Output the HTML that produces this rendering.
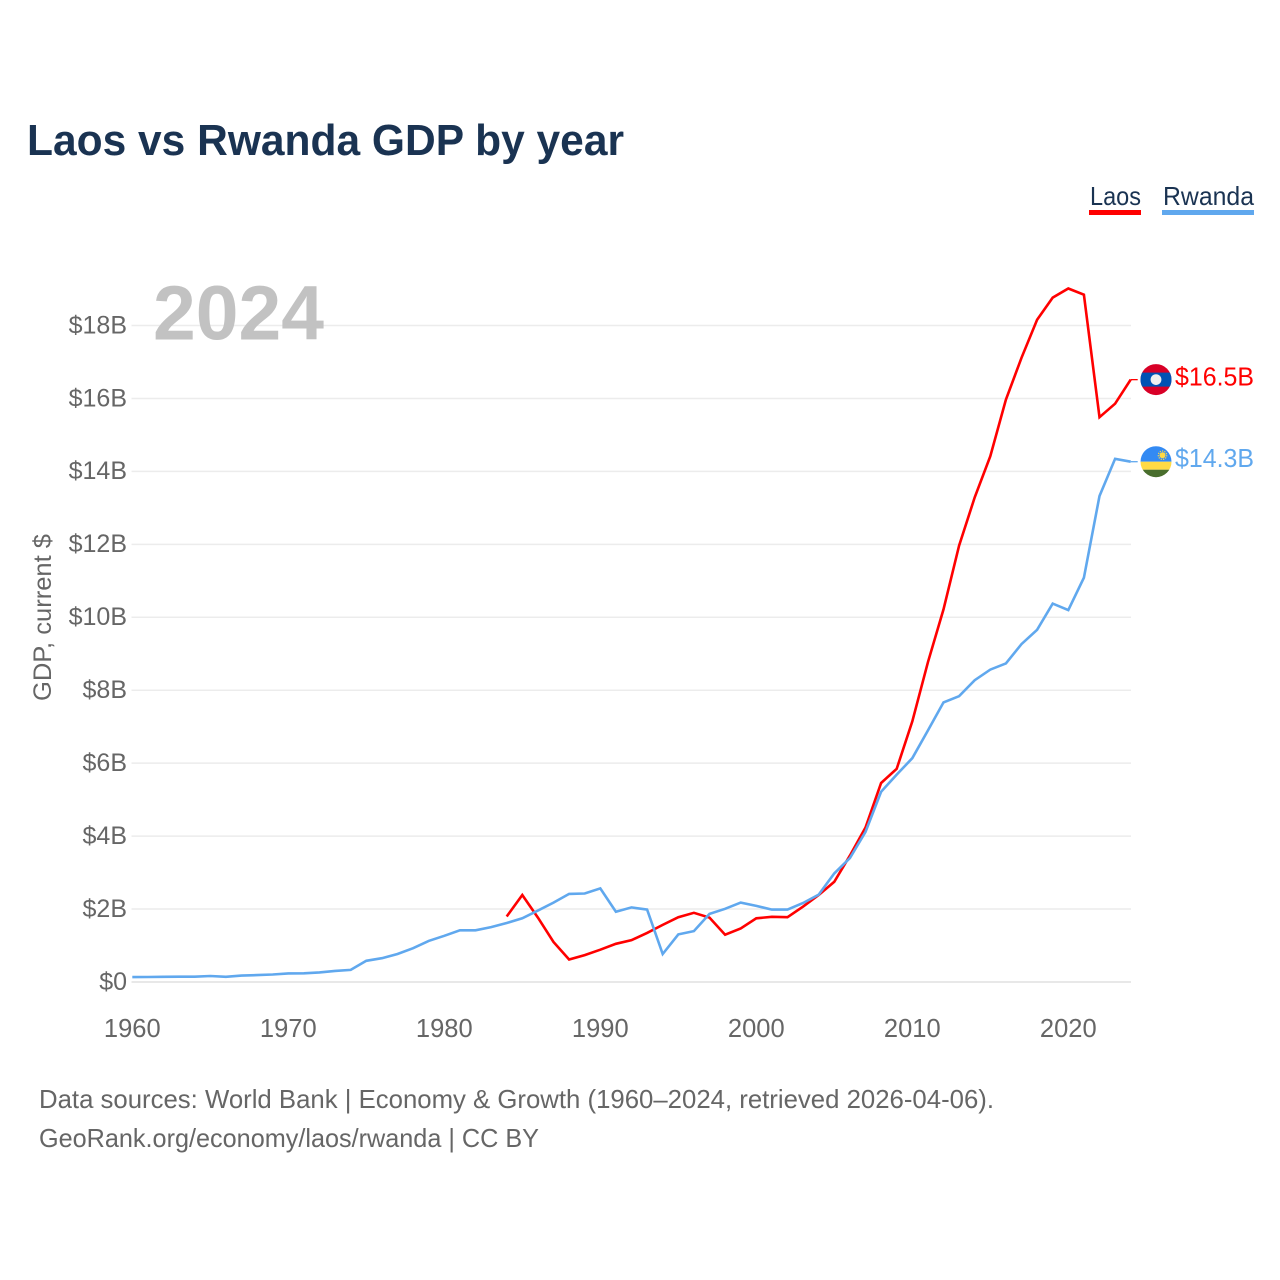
<!DOCTYPE html>
<html lang="en">
<head>
<meta charset="utf-8">
<title>Laos vs Rwanda GDP by year</title>
<style>
html,body{margin:0;padding:0;background:#fff;}
svg{display:block;font-family:"Liberation Sans",Arial,sans-serif;}
</style>
</head>
<body>
<svg id="chart" width="1280" height="1280" viewBox="0 0 1280 1280" xmlns="http://www.w3.org/2000/svg">
  <rect x="0" y="0" width="1280" height="1280" fill="#fff"/>
  <defs><clipPath id="flag-clip"><circle cx="0" cy="0" r="15.5"/></clipPath></defs>
  <text x="27" y="155" font-size="44" font-weight="700" fill="#1a3352" textLength="597" lengthAdjust="spacingAndGlyphs">Laos vs Rwanda GDP by year</text>
  <g>
    <g>
      <text x="1090" y="205" font-size="26" fill="#1a3352" textLength="51" lengthAdjust="spacingAndGlyphs">Laos</text>
      <rect x="1089" y="210" width="52" height="5" fill="#ff0000"/>
    </g>
    <g>
      <text x="1163" y="205" font-size="26" fill="#1a3352" textLength="91" lengthAdjust="spacingAndGlyphs">Rwanda</text>
      <rect x="1162" y="210" width="92" height="5" fill="#60a8ee"/>
    </g>
  </g>
  <g id="grid"></g>
  <g id="y-axis"></g>
  <g id="x-axis"></g>
  <text transform="translate(51,617.5) rotate(-90)" text-anchor="middle" font-size="25" fill="#666" textLength="167" lengthAdjust="spacingAndGlyphs">GDP, current $</text>
  <text x="153" y="339.5" font-size="77" font-weight="700" fill="#c2c2c2" textLength="171" lengthAdjust="spacingAndGlyphs">2024</text>
  <g id="series"></g>
  <g id="flag-laos">
    <g clip-path="url(#flag-clip)">
      <rect x="-16" y="-16" width="32" height="32" fill="#d80027"/>
      <rect x="-16" y="-7" width="32" height="14" fill="#0052b4"/>
      <circle cx="0" cy="0" r="5.4" fill="#f0f0f0"/>
    </g>
  </g>
  <g id="flag-rwanda">
    <g clip-path="url(#flag-clip)">
      <rect x="-16" y="-16" width="32" height="16" fill="#338af3"/>
      <rect x="-16" y="0" width="32" height="8" fill="#ffda44"/>
      <rect x="-16" y="8" width="32" height="8" fill="#496e2d"/>
      <circle cx="6.5" cy="-6.5" r="3" fill="#ffda44"/>
      <circle cx="6.5" cy="-6.5" r="4.2" fill="none" stroke="#ffda44" stroke-width="1.2" stroke-dasharray="1.2 1.2"/>
    </g>
  </g>
  <text id="value-laos" x="1175" font-size="26" fill="#ff0000" textLength="79" lengthAdjust="spacingAndGlyphs"></text>
  <text id="value-rwanda" x="1175" font-size="26" fill="#60a8ee" textLength="79" lengthAdjust="spacingAndGlyphs"></text>
  <text x="39" y="1108" font-size="26" fill="#666" textLength="955" lengthAdjust="spacingAndGlyphs">Data sources: World Bank | Economy &amp; Growth (1960–2024, retrieved 2026-04-06).</text>
  <text x="39" y="1147" font-size="26" fill="#666" textLength="500" lengthAdjust="spacingAndGlyphs">GeoRank.org/economy/laos/rwanda | CC BY</text>
</svg>
<script>
const startYear = 1960;
const xTickYears = [1960, 1970, 1980, 1990, 2000, 2010, 2020];
const yTickValues = [0, 2, 4, 6, 8, 10, 12, 14, 16, 18];
const rwandaStartYear = 1960;
const rwandaValues = [0.119,0.122,0.125,0.129,0.130,0.149,0.125,0.159,0.173,0.189,0.220,0.222,0.247,0.287,0.314,0.565,0.637,0.75,0.91,1.11,1.25,1.40,1.40,1.49,1.60,1.73,1.94,2.16,2.40,2.41,2.55,1.91,2.03,1.97,0.75,1.29,1.38,1.85,1.99,2.16,2.07,1.97,1.97,2.15,2.38,2.96,3.38,4.10,5.20,5.67,6.12,6.88,7.65,7.82,8.26,8.55,8.72,9.25,9.64,10.36,10.18,11.07,13.31,14.33,14.25];
const laosStartYear = 1984;
const laosValues = [1.78,2.37,1.75,1.08,0.60,0.72,0.87,1.03,1.13,1.33,1.55,1.76,1.88,1.75,1.28,1.45,1.73,1.77,1.76,2.05,2.37,2.73,3.45,4.22,5.44,5.83,7.13,8.75,10.2,11.95,13.27,14.4,15.95,17.1,18.14,18.75,19.0,18.83,15.47,15.84,16.5];

const NS = 'http://www.w3.org/2000/svg';
const xScale = function (year) { return 132.3 + (year - startYear) * 15.6; };
const yScale = function (v) { return 982 - v * 36.47; };
function make(tag, attrs, parent) {
  const el = document.createElementNS(NS, tag);
  for (const k in attrs) el.setAttribute(k, attrs[k]);
  parent.appendChild(el);
  return el;
}
const grid = document.getElementById('grid');
const yAxis = document.getElementById('y-axis');
const xAxis = document.getElementById('x-axis');
const series = document.getElementById('series');

yTickValues.forEach(function (v) {
  const line = make('line', {x1: 131.5, x2: 1131, y1: yScale(v), y2: yScale(v), stroke: v === 0 ? '#e8e8e8' : '#ececec', 'stroke-width': v === 0 ? 2 : 1.5}, grid);
  
  
  const t = make('text', {x: 127, y: yScale(v) + 7.8, 'text-anchor': 'end', 'font-size': 25, fill: '#666'}, yAxis);
  
  
  t.textContent = '$' + v + (v === 0 ? '' : 'B');
});
xTickYears.forEach(function (y) {
  const t = make('text', {x: xScale(y), y: 1037, 'text-anchor': 'middle', 'font-size': 25.5, fill: '#666'}, xAxis);
  
  
  t.textContent = String(y);
});
function drawSeries(values, start, color, key, labelOffset) {
  const pts = values.map(function (v, i) { return xScale(start + i).toFixed(1) + ',' + (yScale(v) - 0.6).toFixed(1); });
  const line = make('polyline', {points: pts.join(' '), fill: 'none', stroke: color, 'stroke-width': 2.6, 'stroke-linejoin': 'miter'}, series);
  
  
  const last = values[values.length - 1];
  const endX = xScale(start + values.length - 1);
  const ly = yScale(last) - 0.6;
  const conn = make('line', {x1: endX, x2: endX + 7, y1: ly, y2: ly, stroke: color, 'stroke-width': 1.3}, series);
  
  
  document.getElementById('flag-' + key).setAttribute('transform', 'translate(1156,' + ly.toFixed(1) + ')');
  const label = document.getElementById('value-' + key);
  label.setAttribute('y', (ly + labelOffset).toFixed(1));
  label.textContent = '$' + last.toFixed(1) + 'B';
}
drawSeries(laosValues, laosStartYear, '#ff0000', 'laos', 6);
drawSeries(rwandaValues, rwandaStartYear, '#60a8ee', 'rwanda', 5.5);
</script>
</body>
</html>
